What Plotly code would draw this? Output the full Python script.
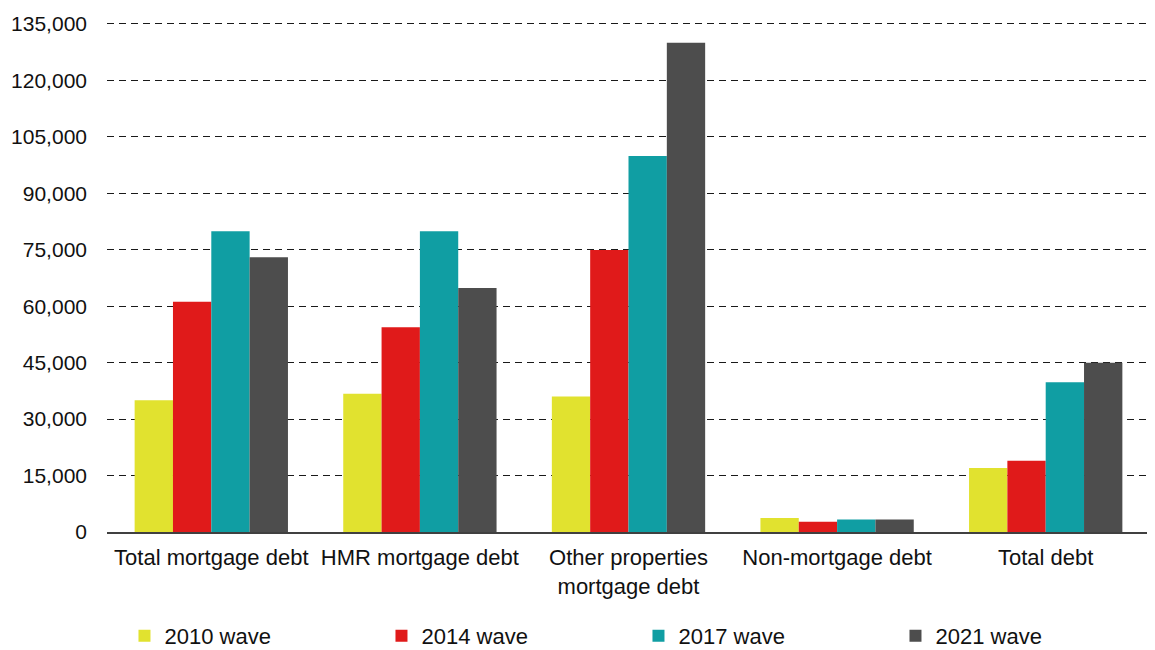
import plotly.graph_objects as go

categories = ['Total mortgage debt', 'HMR mortgage debt', 'Other properties<br>mortgage debt',
              'Non-mortgage debt', 'Total debt']
waves = ['2010 wave', '2014 wave', '2017 wave', '2021 wave']
wave_2010 = [35000, 36700, 36000, 3700, 17000]
wave_2014 = [61200, 54400, 74900, 2700, 18900]
wave_2017 = [79900, 79900, 99900, 3300, 39800]
wave_2021 = [73000, 64800, 130000, 3300, 45000]
y_ticks = list(range(0, 135001, 15000))

colors = ['#E1E22F', '#E01A1A', '#109EA3', '#4D4D4D']
series = [wave_2010, wave_2014, wave_2017, wave_2021]

fig = go.Figure()
for name, vals, c in zip(waves, series, colors):
    fig.add_trace(go.Bar(name=name, x=categories, y=vals,
                         marker=dict(color=c, line=dict(width=0))))

# page body has an 8px margin, so the figure is 8px smaller than the window
fig.update_layout(
    barmode='group', bargap=0.265, bargroupgap=0,
    width=1147, height=642,
    paper_bgcolor='white', plot_bgcolor='white',
    font=dict(family='Liberation Sans, Arial, sans-serif', color='#111111', size=22),
    margin=dict(t=14, b=118, l=99, r=5, autoexpand=False),
    xaxis=dict(showline=True, linecolor='#404040', linewidth=2, ticks='',
               showgrid=False, ticklabelstandoff=5),
    yaxis=dict(range=[0, 135500], tickvals=y_ticks, tickformat=',', showline=False,
               showgrid=True, gridcolor='#1A1A1A', gridwidth=1, griddash='7px,5px',
               zeroline=False, ticks='', ticklabelstandoff=19, tickfont=dict(size=21)),
    legend=dict(orientation='h', x=-0.0005, xanchor='left', y=-0.204, yanchor='middle',
                entrywidth=194, entrywidthmode='pixels', itemwidth=30, indentation=18,
                traceorder='normal', tracegroupgap=0),
)

fig.write_html('out.html')
